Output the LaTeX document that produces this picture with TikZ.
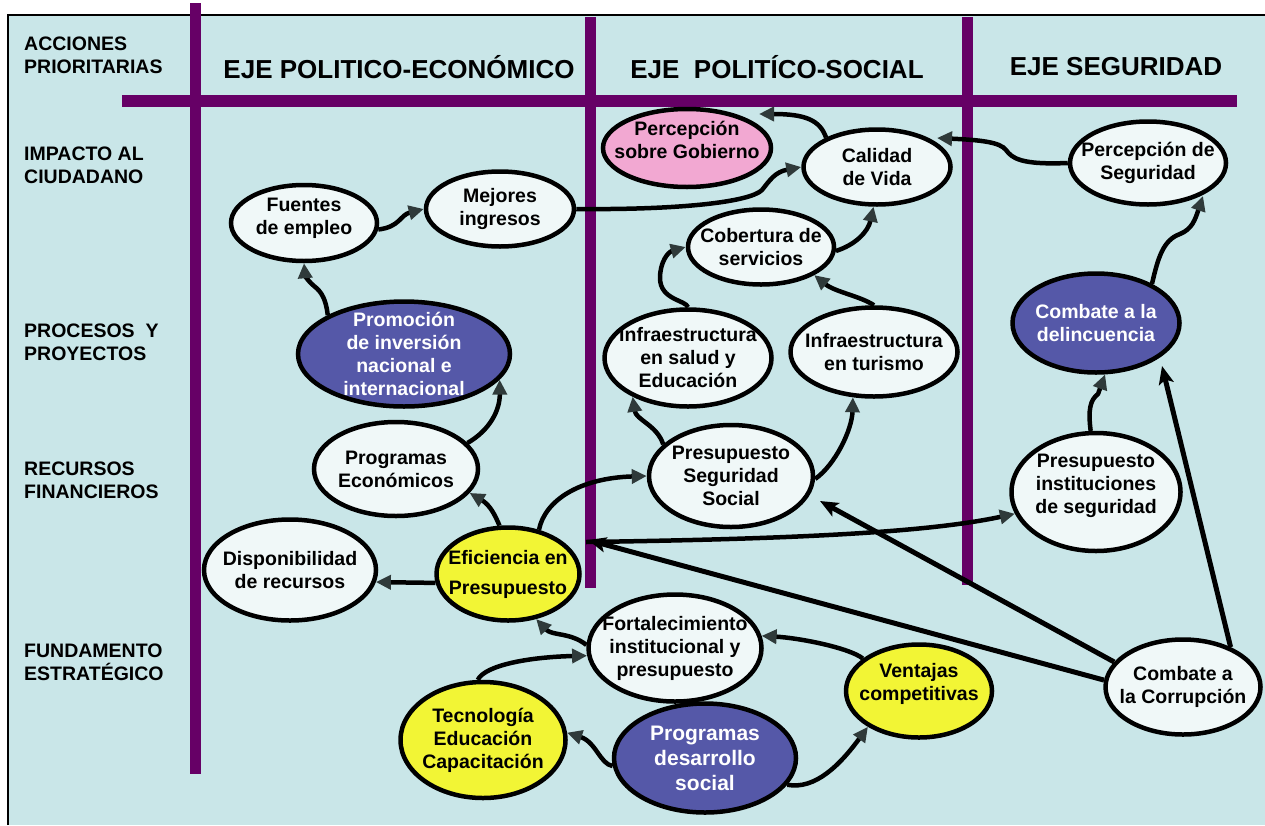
\documentclass[tikz,border=0pt]{standalone}
\usepackage{fontspec}
\setmainfont{Liberation Sans}
\usetikzlibrary{shapes.geometric,arrows.meta}
\definecolor{bgc}{HTML}{C9E6E8}
\definecolor{purl}{HTML}{660066}
\definecolor{wfill}{HTML}{F0F8F8}
\definecolor{cpink}{HTML}{F2A8D2}
\definecolor{cyel}{HTML}{F2F535}
\definecolor{cvio}{HTML}{5558A8}
\definecolor{tipgray}{HTML}{2F3A3A}
\newcommand{\mynodefont}{\fontsize{19.5}{23}\selectfont\bfseries}
\newcommand{\myheadfont}{\fontsize{26}{30}\selectfont\bfseries}
\begin{document}
\begin{tikzpicture}[x=1pt,y=-1pt,
  bub/.style={ellipse, draw=black, line width=4.5pt, fill=wfill, inner xsep=-40pt, inner ysep=-30pt,
    align=center, font=\mynodefont, text=black},
  vio/.style={bub, fill=cvio, text=white},
  yel/.style={bub, fill=cyel},
  pnk/.style={bub, fill=cpink},
  conn/.style={line width=4.5pt, -{Triangle[length=15pt,width=14pt,color=tipgray]}},
  connb/.style={line width=5pt, -{Stealth[length=18pt,width=15pt,inset=4pt]}},
  rowlab/.style={anchor=west, align=left, font=\mynodefont, inner sep=0pt},
  head/.style={font=\myheadfont, inner sep=0pt}
]
\fill[white] (0,0) rectangle (1265,825);
\useasboundingbox (0,0) rectangle (1265,825);
\fill[bgc] (8,15) rectangle (1265,825);
\draw[line width=2pt] (8,825) -- (8,15) -- (1265,15);
% purple grid
\fill[purl] (190,3) rectangle (201,774);
\fill[purl] (585,17) rectangle (596,588);
\fill[purl] (962,17) rectangle (973,585);
\fill[purl] (122,95) rectangle (1237,107);
% row labels
\node[rowlab] (l1) at (24,55) {ACCIONES\\PRIORITARIAS};
\node[rowlab] (l2) at (24,165) {IMPACTO AL\\CIUDADANO};
\node[rowlab] (l3) at (24,342) {PROCESOS\ \ Y\\PROYECTOS};
\node[rowlab] (l4) at (24,480) {RECURSOS\\FINANCIEROS};
\node[rowlab] (l5) at (24,662) {FUNDAMENTO\\ESTRATÉGICO};
% headers
\node[head] (h1) at (399,67) {EJE POLITICO-ECONÓMICO};
\node[head] (h2) at (777,67) {EJE\ \ POLITÍCO-SOCIAL};
\node[head] (h3) at (1116,67) {EJE SEGURIDAD};
% nodes
\node[bub, minimum width=146pt, minimum height=76pt, text depth=13pt] (fuentes) at (304,223) {Fuentes\\de empleo};
\node[bub, minimum width=148pt, minimum height=75pt] (mejores) at (500,209) {Mejores\\ingresos};
\node[pnk, minimum width=168pt, minimum height=78pt, text depth=17pt] (pink) at (687,148) {Percepción\\sobre Gobierno};
\node[bub, minimum width=147pt, minimum height=75pt] (calidad) at (877,167) {Calidad\\de Vida};
\node[bub, minimum width=156pt, minimum height=83pt] (percseg) at (1148,163) {Percepción de\\Seguridad};
\node[bub, minimum width=146pt, minimum height=75pt] (cobertura) at (761,247) {Cobertura de\\servicios};
\node[vio, minimum width=212pt, minimum height=105pt] (promo) at (404,354) {Promoción\\de inversión\\nacional e\\internacional};
\node[bub, minimum width=167pt, minimum height=97pt] (infrasalud) at (688,358) {Infraestructura\\en salud y\\Educación};
\node[bub, minimum width=167pt, minimum height=89pt] (infratur) at (874,352) {Infraestructura\\en turismo};
\node[vio, minimum width=167pt, minimum height=99pt] (delinc) at (1096,323) {Combate a la\\delincuencia};
\node[bub, minimum width=164pt, minimum height=94pt] (progeco) at (396,469) {Programas\\Económicos};
\node[bub, minimum width=172pt, minimum height=101pt] (dispon) at (290,570) {Disponibilidad\\de recursos};
\node[yel, minimum width=143pt, minimum height=93pt, font=\fontsize{19.5}{30}\selectfont\bfseries] (efic) at (508,574) {Eficiencia en\\Presupuesto};
\node[bub, minimum width=164pt, minimum height=102pt] (pss) at (731,476) {Presupuesto\\Seguridad\\Social};
\node[bub, minimum width=169pt, minimum height=118pt, text depth=17pt] (pinst) at (1096,492) {Presupuesto\\instituciones\\de seguridad};
\node[bub, minimum width=173pt, minimum height=107pt] (fortal) at (675,648) {Fortalecimiento\\institucional y\\presupuesto};
\node[yel, minimum width=146pt, minimum height=93pt, text depth=19pt] (ventajas) at (919,691) {Ventajas\\competitivas};
\node[yel, minimum width=165pt, minimum height=116pt] (tecno) at (483,740) {Tecnología\\Educación\\Capacitación};
\node[vio, minimum width=182pt, minimum height=109pt, font=\fontsize{21}{25}\selectfont\bfseries] (pds) at (705,758) {Programas\\desarrollo\\social};
\node[bub, minimum width=155pt, minimum height=95pt] (corrup) at (1183,687) {Combate a\\la Corrupción};
% free ends
\coordinate (pgTip) at (759,114);
\coordinate (calTip) at (937,138);
\coordinate (psTip) at (1203,196);
\coordinate (dlTip) at (1162,366);
\coordinate (pssTip) at (820,501);
\coordinate (efTip) at (588,540);
\coordinate (J) at (586,542);
% connectors
\draw[conn] (fuentes.-5) .. controls (400,227) and (400,215) .. (mejores.west);
\draw[conn] (mejores.east) .. controls (680,210) and (750,202) .. (762,190) .. controls (770,180) and (775,172) .. (calidad.west);
\draw[conn] (calidad.150) .. controls (820,120) and (805,114) .. (pgTip);
\draw[conn] (percseg.west) .. controls (1020,165) and (1012,158) .. (1006,150) .. controls (1000,142) and (980,140) .. (calTip);
\draw[conn] (cobertura.-3) .. controls (855,245) and (868,232) .. (calidad.-95);
\draw[conn] (infrasalud.north) .. controls (686,300) and (660,300) .. (660,278) .. controls (660,262) and (668,252) .. (cobertura.west);
\draw[conn] (infratur.north) .. controls (860,296) and (835,292) .. (cobertura.south east);
\draw[conn] (delinc.35) .. controls (1158,258) and (1163,240) .. (1180,234) .. controls (1192,229) and (1195,220) .. (psTip);
\draw[conn] (pinst.95) .. controls (1088,410) and (1090,400) .. (1098,394) -- (delinc.-80);
\draw[connb] (corrup.40) -- (dlTip);
\draw[connb] (corrup.160) -- (pssTip);
\draw[connb] (corrup.175) -- (efTip);
\draw[conn] (J) .. controls (800,539) and (930,532) .. (pinst.-165);
\draw[conn] (efic.55) .. controls (545,500) and (580,478) .. (pss.west);
\draw[conn] (efic.100) .. controls (495,515) and (490,505) .. (progeco.-18);
\draw[conn] (efic.187) -- (dispon.-8);
\draw[conn] (progeco.20) .. controls (490,430) and (500,410) .. (promo.-15);
\draw[conn] (promo.153) .. controls (326,300) and (322,292) .. (314,286) .. controls (307,280) and (305,275) .. (fuentes.south);
\draw[conn] (pss.155) .. controls (657,425) and (636,420) .. (infrasalud.-145);
\draw[conn] (pss.-2) .. controls (835,465) and (852,430) .. (infratur.-115);
\draw[conn] (fortal.178) .. controls (570,632) and (552,636) .. (efic.-58);
\draw[conn] (tecno.95) .. controls (485,665) and (530,657) .. (fortal.-175);
\draw[conn] (pds.-175) .. controls (600,764) and (596,742) .. (tecno.5);
\draw[conn] (pds.-18) .. controls (815,790) and (840,765) .. (ventajas.-145);
\draw[conn] (ventajas.150) .. controls (850,648) and (800,638) .. (fortal.8);
\end{tikzpicture}
\end{document}
